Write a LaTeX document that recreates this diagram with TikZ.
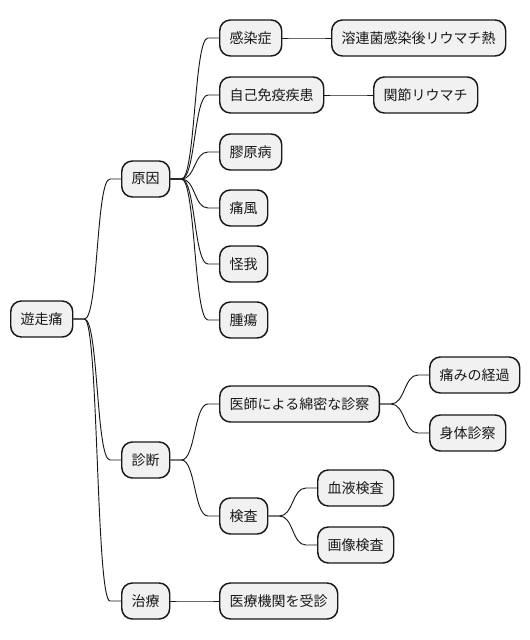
\documentclass[tikz,border=0pt]{standalone}
\usepackage{fontspec}
\setmainfont{Noto Sans CJK JP}
\usepackage{tikz}
\usetikzlibrary{calc}
\definecolor{boxfill}{HTML}{F1F1F1}
\definecolor{boxline}{HTML}{181818}
\tikzset{
topic/.style={draw=boxline, fill=boxfill, line width=1.1pt, rounded corners=8pt, anchor=west,
 inner xsep=7.5pt, inner ysep=0pt, minimum height=27pt, text=boxline,
 font=\fontsize{10.5pt}{12pt}\selectfont},
branch/.style={draw=boxline, line width=0.7pt}
}
\newcommand{\link}[2]{
\draw[branch](#1.east)--++(11,0) .. controls +(14,0) and +(-14,0) .. ($(#2.west)+(-11,0)$)--(#2.west);
}

\begin{document}
\begin{tikzpicture}[x=0.75pt,y=-0.75pt]
\useasboundingbox (0,0) rectangle (530,640);

\node[topic](yusoutsu) at (10,319) {遊走痛};

\node[topic](genin) at (121,179) {原因};
\node[topic](shindan) at (121,460) {診断};
\node[topic](chiryou) at (121,601) {治療};

%原因
\node[topic](kansen) at (219,38) {感染症};
\node[topic](rennetsu) at (331,38) {溶連菌感染後リウマチ熱};
\node[topic](jiko) at (219,95) {自己免疫疾患};
\node[topic](kansetsu) at (373,95) {関節リウマチ};
\node[topic](kougen) at (219,152) {膠原病};
\node[topic](tsuufuu) at (219,208) {痛風};
\node[topic](kega) at (219,264) {怪我};
\node[topic](shuyou) at (219,320) {腫瘍};

%診断
\node[topic](shinsatsu) at (219,404) {医師による綿密な診察};
\node[topic](keika) at (429,375) {痛みの経過};
\node[topic](shintai) at (429,433) {身体診察};
\node[topic](kensa) at (219,516) {検査};
\node[topic](ketsueki) at (317,488) {血液検査};
\node[topic](gazou) at (317,545) {画像検査};

%治療
\node[topic](jushin) at (219,601) {医療機関を受診};

\link{yusoutsu}{genin}
\link{yusoutsu}{shindan}
\link{yusoutsu}{chiryou}

\link{genin}{kansen}
\link{kansen}{rennetsu}
\link{genin}{jiko}
\link{jiko}{kansetsu}
\link{genin}{kougen}
\link{genin}{tsuufuu}
\link{genin}{kega}
\link{genin}{shuyou}

\link{shindan}{shinsatsu}
\link{shinsatsu}{keika}
\link{shinsatsu}{shintai}
\link{shindan}{kensa}
\link{kensa}{ketsueki}
\link{kensa}{gazou}

\link{chiryou}{jushin}

\end{tikzpicture}
\end{document}
